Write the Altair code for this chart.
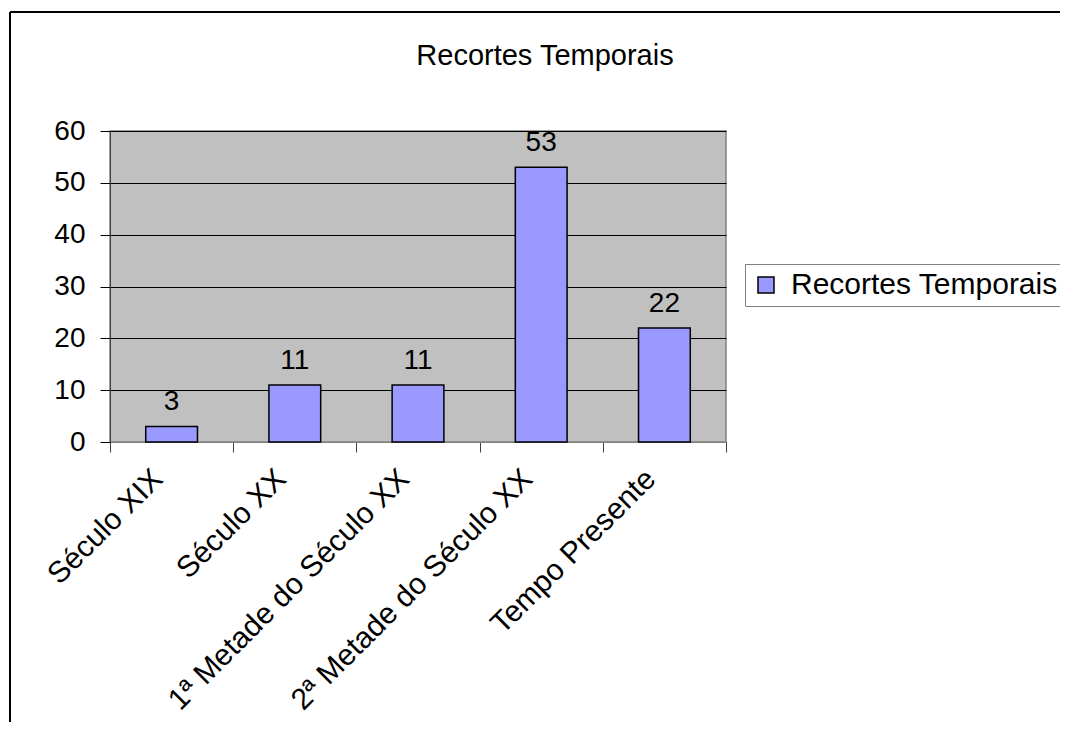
import altair as alt
import pandas as pd

categories = ["Século XIX", "Século XX", "1ª Metade do Século XX", "2ª Metade do Século XX", "Tempo Presente"]
values = [3, 11, 11, 53, 22]
series_name = "Recortes Temporais"
y_ticks = [0, 10, 20, 30, 40, 50, 60]

df = pd.DataFrame({"categoria": categories, "valor": values, "serie": [series_name] * len(categories)})
frame_df = pd.DataFrame({"a": [0]})

FONT = "Liberation Sans"

x_enc = alt.X("categoria:N", sort=categories,
              scale=alt.Scale(paddingInner=0, paddingOuter=0),
              axis=alt.Axis(title=None, labelAngle=-45, labelFontSize=30, labelFont=FONT,
                            labelColor="black", tickBand="extent", tickSize=10,
                            tickColor="#404040", domainColor="#808080", labelPadding=22,
                            labelAlign="right", labelBaseline="middle", labelLimit=500,
                            labelOffset=-14))
y_enc = alt.Y("valor:Q", scale=alt.Scale(domain=[0, 60], nice=False),
              axis=alt.Axis(title=None, values=y_ticks, labelFontSize=28, labelFont=FONT,
                            labelColor="black", tickSize=10, tickColor="black",
                            domainColor="#404040", gridColor="black", gridWidth=1,
                            labelPadding=15))

bars = alt.Chart(df).mark_bar(width=alt.RelativeBandSize(0.42), stroke="black",
                              strokeWidth=1.5).encode(
    x=x_enc, y=y_enc,
    color=alt.Color("serie:N", scale=alt.Scale(range=["#9999ff"]),
                    legend=alt.Legend(title=None, orient="none", legendX=635, legendY=133,
                                      symbolType="square", symbolSize=256,
                                      symbolStrokeColor="black", symbolStrokeWidth=1.5,
                                      symbolFillColor="#9999ff",
                                      labelFontSize=30, labelFont=FONT, labelColor="black",
                                      labelOffset=10, strokeColor="#808080",
                                      fillColor="white", padding=6, labelLimit=500))
)

labels = alt.Chart(df).mark_text(dy=-16, baseline="alphabetic", fontSize=28, font=FONT,
                                 color="black").encode(
    x=alt.X("categoria:N", sort=categories), y="valor:Q", text="valor:Q")

frame_left = alt.Chart(frame_df).mark_rule(color="black", strokeWidth=2).encode(
    x=alt.value(-100), y=alt.value(-119), y2=alt.value(700))
frame_top = alt.Chart(frame_df).mark_rule(color="black", strokeWidth=2).encode(
    x=alt.value(-100), x2=alt.value(1000), y=alt.value(-119))

chart = alt.layer(frame_left, frame_top, bars, labels).properties(
    width=616, height=311,
    autosize=alt.AutoSizeParams(type="none"),
    padding={"left": 102, "top": 123, "right": 334, "bottom": 280},
    title=alt.TitleParams(series_name, fontSize=29, font=FONT, fontWeight="normal",
                          color="black", anchor="middle", dx=127, offset=-83,
                          baseline="alphabetic"),
).configure(background="white", font=FONT).configure_view(
    fill="#c0c0c0", stroke="#808080", strokeWidth=1.5)

chart.save("out.html", embed_options={"renderer": "svg", "actions": False})
